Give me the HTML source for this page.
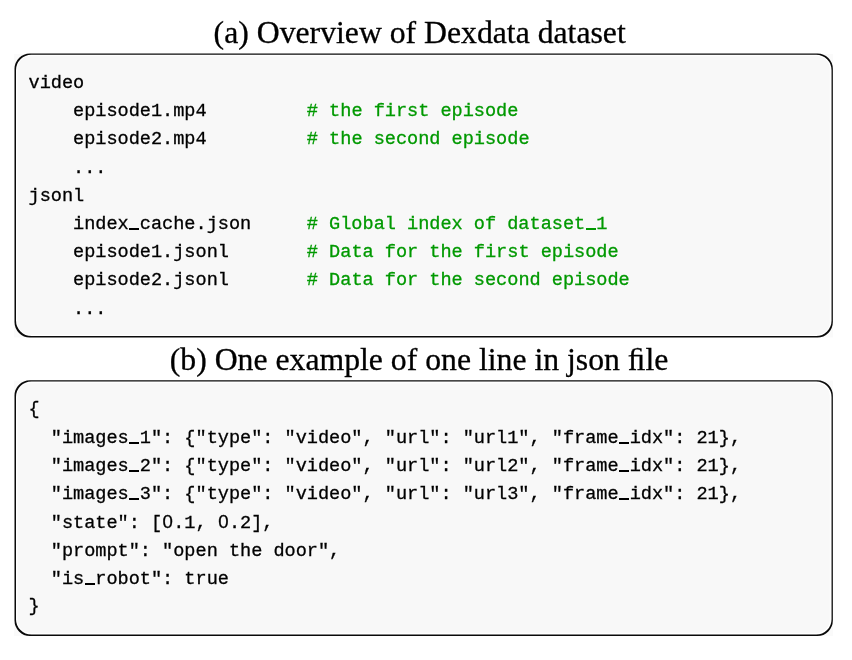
<!DOCTYPE html>
<html>
<head>
<meta charset="utf-8">
<style>
html,body{margin:0;padding:0;background:#fff;}
body{width:852px;height:660px;position:relative;overflow:hidden;}
.bx{position:absolute;left:0;top:0;}
.layer{position:absolute;left:0;top:0;width:852px;height:660px;will-change:transform;}
.title{-webkit-text-stroke:0.3px #000;position:absolute;font-family:"Liberation Serif",serif;font-size:31.72px;color:#000;white-space:nowrap;line-height:36px;height:36px;}
.ln{position:absolute;left:28.5px;font-family:"Liberation Mono",monospace;font-size:18.6px;letter-spacing:-0.0248px;line-height:28px;height:28px;color:#000;white-space:pre;-webkit-text-stroke:0.3px currentColor;}
.g{color:#009900;}
.z{display:inline-block;width:11.137px;text-align:center;font-family:"Liberation Sans",sans-serif;letter-spacing:0;line-height:1;}
.u{display:inline-block;width:11.137px;height:2.1px;letter-spacing:0;position:relative;top:1.05px;background:linear-gradient(currentColor,currentColor) no-repeat 0.35px 0/10.45px 100%;}
</style>
</head>
<body>
<svg class="bx" width="852" height="660" viewBox="0 0 852 660"><rect x="14.10" y="53.85" width="818.85" height="283.55" fill="#fafafa"/><path d="M29.90 53.45H817.45A15.4 15.4 0 0 1 832.85 68.85V322.00A15.4 15.4 0 0 1 817.45 337.40H29.90A15.4 15.4 0 0 1 14.50 322.00V68.85A15.4 15.4 0 0 1 29.90 53.45Z" fill="#fff"/><path d="M29.90 53.45H817.45A15.4 15.4 0 0 1 832.85 68.85V322.00A15.4 15.4 0 0 1 817.45 337.40H29.90A15.4 15.4 0 0 1 14.50 322.00V68.85A15.4 15.4 0 0 1 29.90 53.45ZM31.40 54.75H816.15A15.4 15.4 0 0 1 831.55 70.15V320.60A15.4 15.4 0 0 1 816.15 336.00H31.40A15.4 15.4 0 0 1 16.00 320.60V70.15A15.4 15.4 0 0 1 31.40 54.75Z" fill="#0a0a0a" fill-rule="evenodd"/><path d="M30.20 56.25H817.00A12.8 12.8 0 0 1 829.80 69.05V321.90A12.8 12.8 0 0 1 817.00 334.70H30.20A12.8 12.8 0 0 1 17.40 321.90V69.05A12.8 12.8 0 0 1 30.20 56.25Z" fill="#f8f8f8"/><rect x="14.10" y="380.60" width="818.85" height="255.40" fill="#fafafa"/><path d="M29.90 380.20H817.45A15.4 15.4 0 0 1 832.85 395.60V620.60A15.4 15.4 0 0 1 817.45 636.00H29.90A15.4 15.4 0 0 1 14.50 620.60V395.60A15.4 15.4 0 0 1 29.90 380.20Z" fill="#fff"/><path d="M29.90 380.20H817.45A15.4 15.4 0 0 1 832.85 395.60V620.60A15.4 15.4 0 0 1 817.45 636.00H29.90A15.4 15.4 0 0 1 14.50 620.60V395.60A15.4 15.4 0 0 1 29.90 380.20ZM31.40 381.50H816.15A15.4 15.4 0 0 1 831.55 396.90V619.20A15.4 15.4 0 0 1 816.15 634.60H31.40A15.4 15.4 0 0 1 16.00 619.20V396.90A15.4 15.4 0 0 1 31.40 381.50Z" fill="#0a0a0a" fill-rule="evenodd"/><path d="M30.20 383.25H817.00A12.8 12.8 0 0 1 829.80 396.05V620.00A12.8 12.8 0 0 1 817.00 632.80H30.20A12.8 12.8 0 0 1 17.40 620.00V396.05A12.8 12.8 0 0 1 30.20 383.25Z" fill="#f8f8f8"/></svg>
<div class="layer">
<div class="title" style="left:213.6px;top:15px;">(a) Overview of Dexdata dataset</div>
<div class="ln" style="top:70px;">video</div>
<div class="ln" style="top:98px;">    episode1.mp4         <span class="g"># the first episode</span></div>
<div class="ln" style="top:126px;">    episode2.mp4         <span class="g"># the second episode</span></div>
<div class="ln" style="top:155px;">    ...</div>
<div class="ln" style="top:183px;">jsonl</div>
<div class="ln" style="top:211px;">    index<span class="u"></span>cache.json     <span class="g"># Global index of dataset<span class="u"></span>1</span></div>
<div class="ln" style="top:239px;">    episode1.jsonl       <span class="g"># Data for the first episode</span></div>
<div class="ln" style="top:267px;">    episode2.jsonl       <span class="g"># Data for the second episode</span></div>
<div class="ln" style="top:296px;">    ...</div>
<div class="title" style="left:169.8px;top:342px;">(b) One example of one line in json &#xFB01;le</div>
<div class="ln" style="top:396px;">{</div>
<div class="ln" style="top:425px;">  "images<span class="u"></span>1": {"type": "video", "url": "url1", "frame<span class="u"></span>idx": 21},</div>
<div class="ln" style="top:453px;">  "images<span class="u"></span>2": {"type": "video", "url": "url2", "frame<span class="u"></span>idx": 21},</div>
<div class="ln" style="top:481px;">  "images<span class="u"></span>3": {"type": "video", "url": "url3", "frame<span class="u"></span>idx": 21},</div>
<div class="ln" style="top:510px;">  "state": [<span class="z">0</span>.1, <span class="z">0</span>.2],</div>
<div class="ln" style="top:538px;">  "prompt": "open the door",</div>
<div class="ln" style="top:566px;">  "is<span class="u"></span>robot": true</div>
<div class="ln" style="top:593px;">}</div>
</div>
</body>
</html>
